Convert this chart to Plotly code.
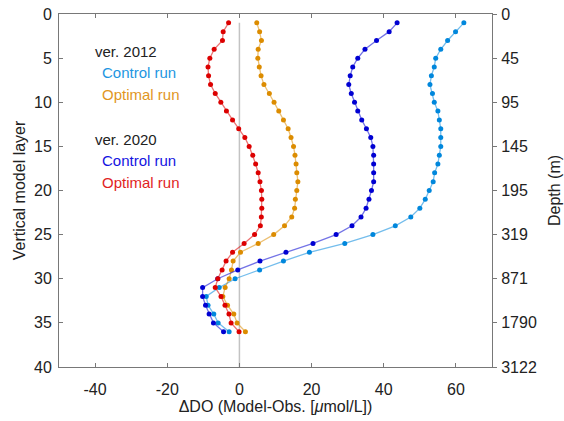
import plotly.graph_objects as go

layers = list(range(1, 37))

v2012_control = [62.2, 59.9, 57.7, 55.8, 54.4, 54.0, 53.2, 52.8, 53.5, 54.0,
                 55.0, 55.4, 55.8, 55.8, 55.8, 55.4, 55.0, 54.1, 53.7, 52.6,
                 51.5, 50.0, 47.5, 43.2, 37.0, 29.2, 19.4, 12.2, 5.6, -1.2,
                 -5.6, -9.2, -8.7, -7.1, -5.9, -2.85]
v2012_optimal = [4.8, 5.6, 6.1, 5.2, 5.1, 5.5, 6.0, 6.8, 8.3, 9.6,
                 10.9, 12.2, 13.5, 14.3, 15.0, 15.4, 15.7, 15.9, 16.2, 15.9,
                 15.5, 15.3, 14.5, 12.5, 9.5, 5.2, 0.3, -1.75, -2.2, -2.85,
                 -3.95, -4.6, -3.3, -1.56, -0.64, 1.66]
v2020_control = [43.7, 41.5, 38.0, 34.8, 32.8, 31.4, 30.7, 30.3, 31.0, 31.9,
                 32.8, 33.9, 35.2, 36.4, 37.0, 37.2, 37.2, 37.2, 37.2, 36.6,
                 35.9, 35.1, 33.7, 31.2, 26.8, 20.4, 12.9, 5.7, -0.46, -6.0,
                 -10.2, -10.2, -9.4, -8.4, -7.2, -4.4]
v2020_optimal = [-3.0, -4.5, -4.7, -7.0, -8.2, -8.7, -8.55, -8.0, -6.7, -5.15,
                 -3.6, -1.9, -0.2, 1.5, 2.7, 3.7, 4.5, 5.2, 5.7, 6.1,
                 6.2, 6.2, 6.07, 5.8, 4.2, 1.3, -1.9, -3.7, -4.8, -6.0,
                 -6.7, -5.1, -4.0, -2.9, -2.3, -0.1]

x_ticks = [-40, -20, 0, 20, 40, 60]
x_tick_labels = ["-40", "-20", "0", "20", "40", "60"]
layer_ticks = [0, 5, 10, 15, 20, 25, 30, 35, 40]
depth_labels = ["0", "45", "95", "145", "195", "319", "871", "1790", "3122"]

series = [
    ("ver. 2012 Control run", v2012_control, (0, 135, 220)),
    ("ver. 2012 Optimal run", v2012_optimal, (220, 140, 0)),
    ("ver. 2020 Control run", v2020_control, (0, 0, 210)),
    ("ver. 2020 Optimal run", v2020_optimal, (220, 0, 0)),
]

fig = go.Figure()
for name, vals, (r, g, b) in series:
    fig.add_trace(go.Scatter(
        x=vals, y=layers, mode="lines+markers", name=name,
        line=dict(color=f"rgba({r},{g},{b},0.55)", width=1.3),
        marker=dict(color=f"rgb({r},{g},{b})", size=5),
        showlegend=False,
    ))

# invisible trace to anchor the right-hand depth axis
fig.add_trace(go.Scatter(x=[None], y=[None], yaxis="y2", showlegend=False,
                         hoverinfo="skip"))

fig.add_shape(type="line", x0=0, x1=0, y0=1, y1=40, xref="x", yref="y",
              line=dict(color="rgb(195,195,195)", width=1.5), layer="below")

font_family = "Liberation Sans, Arial, sans-serif"
ann = [
    ("ver. 2012", -40, 4.2, "#222222"),
    ("Control run", -38, 6.6, "rgb(30,150,225)"),
    ("Optimal run", -38, 9.1, "rgb(225,150,30)"),
    ("ver. 2020", -40, 14.2, "#222222"),
    ("Control run", -38, 16.6, "rgb(20,20,225)"),
    ("Optimal run", -38, 19.1, "rgb(225,30,30)"),
]
for text, x, y, c in ann:
    fig.add_annotation(x=x, y=y, xref="x", yref="y", text=text, showarrow=False,
                       xanchor="left", yanchor="middle", xshift=-2,
                       font=dict(size=15, color=c, family=font_family))

axis_color = "rgb(120,120,120)"
fig.update_layout(
    width=564, height=421,
    margin=dict(l=59, r=72, t=14, b=54, autoexpand=False),
    plot_bgcolor="white", paper_bgcolor="white",
    font=dict(family=font_family, size=16, color="#222222"),
    xaxis=dict(range=[-50, 70], tickvals=x_ticks, ticktext=x_tick_labels,
               ticks="inside", ticklen=4,
               tickcolor=axis_color, showline=True, linecolor=axis_color,
               linewidth=1, mirror="ticks", showgrid=False, zeroline=False,
               automargin=False, tickfont=dict(size=16), ticklabelstandoff=8,
               title=dict(text="ΔDO (Model-Obs. [<i>μ</i>mol/L])",
                          font=dict(size=16), standoff=2)),
    yaxis=dict(range=[40, 0], tickvals=layer_ticks, ticks="inside", ticklen=4,
               tickcolor=axis_color, showline=True, linecolor=axis_color,
               linewidth=1, showgrid=False, zeroline=False, automargin=False,
               tickfont=dict(size=16), ticklabelstandoff=3,
               title=dict(text="Vertical model layer", font=dict(size=16),
                          standoff=4)),
    yaxis2=dict(range=[40, 0], overlaying="y", side="right",
                tickvals=layer_ticks, ticktext=depth_labels, ticks="outside",
                ticklen=4, tickcolor=axis_color, showline=True,
                linecolor=axis_color, linewidth=1, showgrid=False,
                zeroline=False, automargin=False, tickfont=dict(size=16),
                ticklabelstandoff=1,
                title=dict(text="Depth (m)", font=dict(size=16), standoff=12)),
)

fig.write_html("out.html", config={"displayModeBar": False},
               post_script="document.body.style.margin='0';")
